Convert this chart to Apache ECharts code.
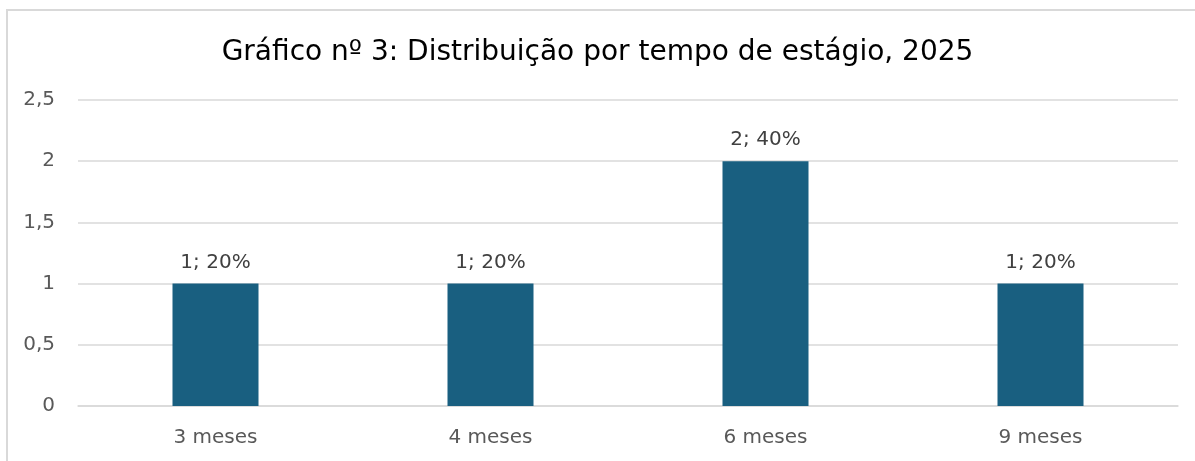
<!DOCTYPE html>
<html>
<head>
<meta charset="utf-8">
<script src="https://cdn.jsdelivr.net/npm/echarts@6/dist/echarts.min.js"></script>
<style>
  html, body { margin: 0; padding: 0; background: #fff; overflow: hidden; }
  #frame {
    position: absolute; left: 6px; top: 9px; width: 1210px; height: 470px;
    border: 2px solid #d9d9d9; box-sizing: border-box;
  }
  #chart { position: absolute; left: 0; top: 0; width: 1195px; height: 461px; }
</style>
</head>
<body>
<div id="frame"></div>
<div id="chart"></div>
<script>
  const categorias = ['3 meses', '4 meses', '6 meses', '9 meses'];
  const valores = [1, 1, 2, 1];
  const percentuais = ['20%', '20%', '40%', '20%'];

  const chart = echarts.init(document.getElementById('chart'));
  chart.setOption({
    animation: false,
    title: {
      text: 'Gráfico nº 3: Distribuição por tempo de estágio, 2025',
      left: 'center',
      top: 34,
      textStyle: { fontFamily: 'DejaVu Sans', fontSize: 28, fontWeight: 'normal', color: '#000' }
    },
    grid: { left: 78, right: 17, top: 100, bottom: 55 },
    xAxis: {
      type: 'category',
      data: categorias,
      axisLine: { lineStyle: { color: '#d9d9d9', width: 1.5 } },
      axisTick: { show: false },
      axisLabel: { fontFamily: 'DejaVu Sans', fontSize: 20, color: '#595959', margin: 22 }
    },
    yAxis: {
      type: 'value',
      min: 0, max: 2.5, interval: 0.5,
      axisLine: { show: false },
      axisTick: { show: false },
      splitLine: { lineStyle: { color: '#d9d9d9', width: 1.5 } },
      axisLabel: {
        fontFamily: 'DejaVu Sans', fontSize: 20, color: '#595959', margin: 23,
        formatter: v => String(v).replace('.', ',')
      }
    },
    series: [{
      type: 'bar',
      data: valores,
      barWidth: 86,
      itemStyle: { color: '#195F80' },
      label: {
        show: true,
        position: 'top',
        distance: 11,
        fontFamily: 'DejaVu Sans', fontSize: 20, color: '#404040',
        formatter: p => p.value + '; ' + percentuais[p.dataIndex]
      }
    }]
  });
</script>
</body>
</html>
